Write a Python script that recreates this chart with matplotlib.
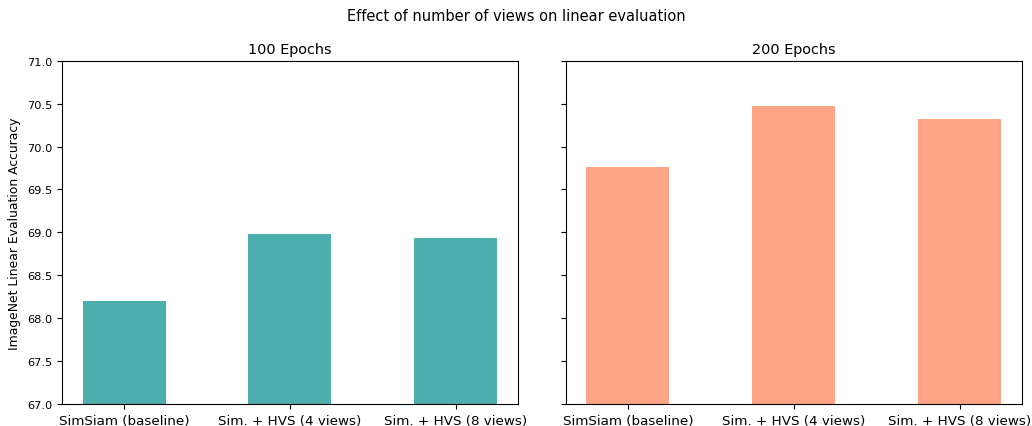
import matplotlib
matplotlib.use("Agg")
from matplotlib import pyplot as plt
import numpy as np

methods = ["SimSiam (baseline)", "Sim. + HVS (4 views)", "Sim. + HVS (8 views)"]
acc_100 = [68.20, 68.98, 68.93]
acc_200 = [69.76, 70.47, 70.32]

fig, axes = plt.subplots(1, 2, figsize=(10.32, 4.27), dpi=100, sharey=True)
fig.subplots_adjust(left=0.06, right=0.99, bottom=0.052, top=0.855, wspace=0.105)

x = np.arange(len(methods))
for ax, acc, color, title in [(axes[0], acc_100, "#4cadad", "100 Epochs"),
                              (axes[1], acc_200, "#ffa585", "200 Epochs")]:
    ax.bar(x, acc, width=0.5, color=color)
    ax.set_title(title, fontsize=10.4)
    ax.set_xticks(x)
    ax.set_xticklabels(methods, fontsize=9.7)
    ax.tick_params(axis="y", labelsize=8.2)
    ax.set_ylim(67, 71)

axes[0].set_yticks(np.arange(67, 71.01, 0.5))
axes[0].set_ylabel("ImageNet Linear Evaluation Accuracy", fontsize=8.9)
fig.suptitle("Effect of number of views on linear evaluation", fontsize=10.5, y=0.978)

plt.savefig("out.png")
